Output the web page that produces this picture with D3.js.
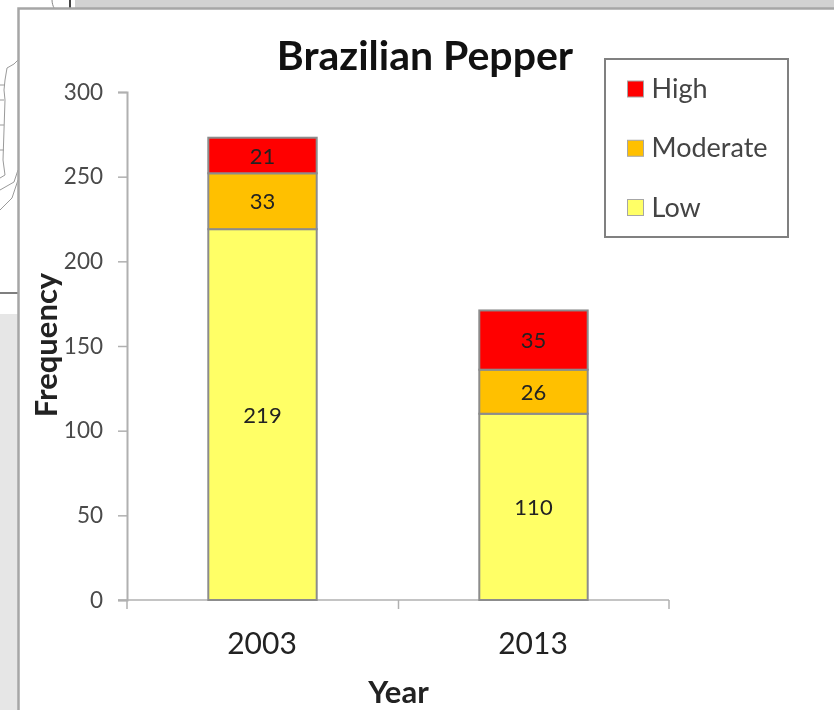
<!DOCTYPE html>
<html>
<head>
<meta charset="utf-8">
<script src="https://cdn.jsdelivr.net/npm/d3@7"></script>
<style>
  html, body { margin: 0; padding: 0; background: #fff; }
  svg { display: block; font-family: Lato, "Open Sans", sans-serif; }
  .soft { filter: blur(0.6px); }
</style>
</head>
<body>
<script>
var years = ["2003", "2013"];
var levels = ["Low", "Moderate", "High"];
var low = [219, 110];
var moderate = [33, 26];
var high = [21, 35];
var yTicks = [0, 50, 100, 150, 200, 250, 300];
var legendOrder = ["High", "Moderate", "Low"];

var width = 834, height = 710;
var colors = d3.scaleOrdinal().domain(levels).range(["#ffff66", "#ffc000", "#ff0000"]);

var rows = years.map(function(y, i) {
    return { year: y, Low: low[i], Moderate: moderate[i], High: high[i] };
});

var svg = d3.select("body").append("svg")
    .attr("width", width)
    .attr("height", height);
var root = svg.append("g").attr("class", "soft");

// whatever sits behind the chart on the slide
root.append("rect").attr("width", width).attr("height", height).attr("fill", "#fff");
root.append("rect").attr("x", 75).attr("y", 0).attr("width", 759).attr("height", 8).attr("fill", "#d2d2d2");
root.append("rect").attr("x", 0).attr("y", 314).attr("width", 18).attr("height", 396).attr("fill", "#e6e6e6");
root.append("line").attr("x1", 0).attr("x2", 18).attr("y1", 293).attr("y2", 293)
    .attr("stroke", "#555").attr("stroke-width", 1.5);
root.append("line").attr("x1", 70).attr("x2", 70).attr("y1", 0).attr("y2", 8)
    .attr("stroke", "#444").attr("stroke-width", 2);
root.append("path")
    .attr("d", "M52,0C52,3 53,6 54,8")
    .attr("fill", "none").attr("stroke", "#888");
root.append("path")
    .attr("d", "M18,60L14,64L7,68L5,80L4,90L5,100L3,160L5,175L0,178M18,170L14,182L0,190M18,180L12,198L0,210M0,85L5,85M0,100L4,100M0,125L4,125M0,150L4,150")
    .attr("fill", "none").attr("stroke", "#9a9a9a").attr("stroke-width", 1);

// chart frame
root.append("rect").attr("x", 18.5).attr("y", 8.5).attr("width", 840).attr("height", 720)
    .attr("fill", "#fff").attr("stroke", "#a6a6a6").attr("stroke-width", 2.5);

var x = d3.scaleBand().domain(years).range([127, 669]).paddingInner(0.6).paddingOuter(0.3);
var y = d3.scaleLinear().domain([0, 300]).range([600, 92]);

// y axis
var yAxis = root.append("g")
    .attr("transform", "translate(127,0)")
    .call(d3.axisLeft(y).tickValues(yTicks).tickSize(9).tickPadding(15));
yAxis.selectAll("line").attr("stroke", "#b0b0b0").attr("stroke-width", 1.5);
yAxis.select(".domain").attr("stroke", "#b0b0b0").attr("stroke-width", 2);
yAxis.selectAll("text").attr("font-size", 22.5).attr("fill", "#4a4a4a").attr("font-family", "Lato");

// x axis, ticks fall between the categories
var xAxis = root.append("g").attr("transform", "translate(0,600)");
xAxis.append("line").attr("x1", 118).attr("x2", 669).attr("stroke", "#b0b0b0").attr("stroke-width", 1.5);
xAxis.selectAll(".sep").data([127, 398.5, 669]).enter().append("line")
    .attr("class", "sep")
    .attr("x1", function(d) { return d; }).attr("x2", function(d) { return d; })
    .attr("y1", 0).attr("y2", 9)
    .attr("stroke", "#b0b0b0").attr("stroke-width", 1.5);
xAxis.selectAll(".yr").data(years).enter().append("text")
    .attr("class", "yr")
    .attr("x", function(d) { return x(d) + x.bandwidth() / 2 - 0.5; })
    .attr("y", 54)
    .attr("text-anchor", "middle")
    .attr("font-size", 30)
    .attr("fill", "#222")
    .text(function(d) { return d; });

// stacked bars
var stacked = d3.stack().keys(levels)(rows);
var groups = root.selectAll(".layer").data(stacked).enter().append("g").attr("class", "layer");
groups.selectAll("rect").data(function(s) {
        return s.map(function(p) { return { key: s.key, y0: p[0], y1: p[1], year: p.data.year }; });
    }).enter().append("rect")
    .attr("x", function(d) { return x(d.year); })
    .attr("width", x.bandwidth())
    .attr("y", function(d) { return y(d.y1); })
    .attr("height", function(d) { return y(d.y0) - y(d.y1); })
    .attr("fill", function(d) { return colors(d.key); })
    .attr("stroke", "#8c8c8c")
    .attr("stroke-width", 2);
groups.selectAll("text").data(function(s) {
        return s.map(function(p) { return { y0: p[0], y1: p[1], year: p.data.year }; });
    }).enter().append("text")
    .attr("x", function(d) { return x(d.year) + x.bandwidth() / 2; })
    .attr("y", function(d) { return y((d.y0 + d.y1) / 2) + 8; })
    .attr("text-anchor", "middle")
    .attr("font-size", 22)
    .attr("fill", "#222")
    .text(function(d) { return d.y1 - d.y0; });

// titles
root.append("text").attr("x", 425).attr("y", 70).attr("text-anchor", "middle")
    .attr("font-size", 41).attr("font-weight", 700).attr("fill", "#111").text("Brazilian Pepper");
root.append("text").attr("x", 398.5).attr("y", 703).attr("text-anchor", "middle")
    .attr("font-size", 31).attr("font-weight", 700).attr("fill", "#222").text("Year");
root.append("text").attr("transform", "translate(57,345) rotate(-90)").attr("text-anchor", "middle")
    .attr("font-size", 31).attr("font-weight", 700).attr("fill", "#222").text("Frequency");

// legend
var legend = root.append("g");
legend.append("rect").attr("x", 605).attr("y", 59).attr("width", 183).attr("height", 178)
    .attr("fill", "#fff").attr("stroke", "#808080").attr("stroke-width", 2);
var legendY = d3.scalePoint().domain(legendOrder).range([89, 207.5]);
var items = legend.selectAll(".item").data(legendOrder).enter().append("g")
    .attr("class", "item")
    .attr("transform", function(d) { return "translate(0," + legendY(d) + ")"; });
items.append("rect").attr("x", 627.5).attr("y", -8).attr("width", 16).attr("height", 16)
    .attr("fill", function(d) { return colors(d); })
    .attr("stroke", "#a6a6a6").attr("stroke-width", 1);
items.append("text").attr("x", 651.5).attr("y", 9)
    .attr("font-size", 27).attr("fill", "#444").text(function(d) { return d; });
</script>
</body>
</html>
